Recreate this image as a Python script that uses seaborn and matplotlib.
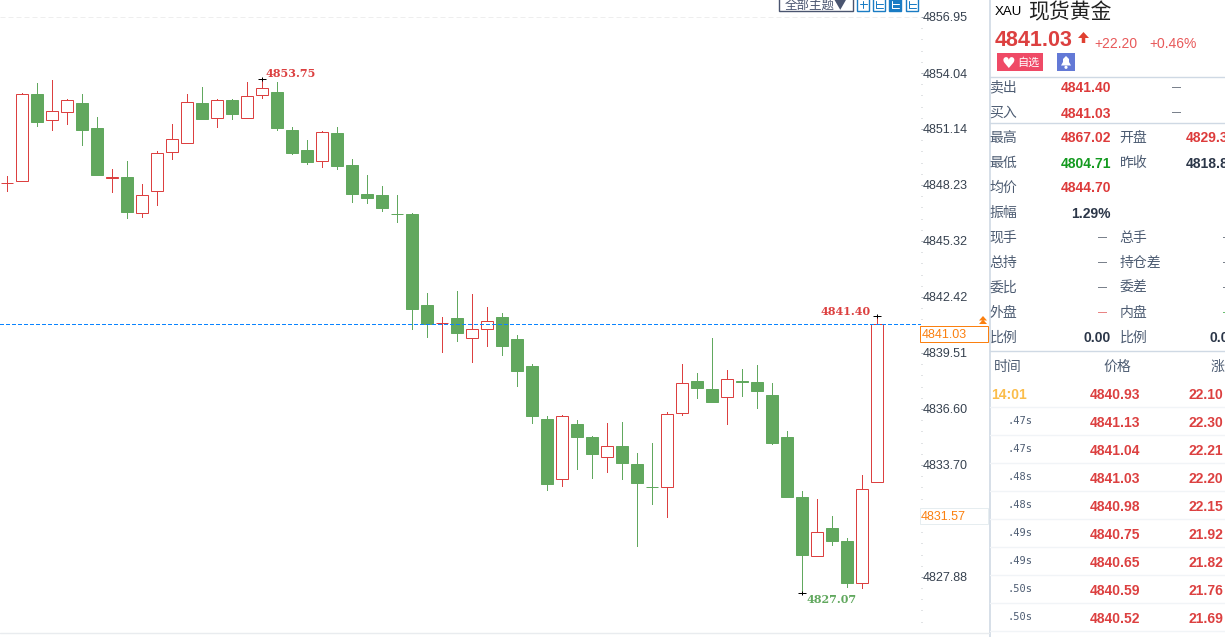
import matplotlib
matplotlib.use('Agg')
import matplotlib.pyplot as plt
import matplotlib.patches as mpatches
import numpy as np
import pandas as pd
import seaborn as sns

opens = [4848.32, 4848.42, 4852.95, 4851.59, 4852.00, 4852.48, 4851.19, 4848.60, 4848.64, 4846.76,
         4847.90, 4849.92, 4850.39, 4852.48, 4851.69, 4852.64, 4851.69, 4852.88, 4853.05, 4851.08,
         4850.04, 4849.46, 4850.93, 4849.27, 4847.76, 4847.71, 4846.71, 4846.72, 4842.00, 4841.05,
         4841.32, 4840.30, 4840.77, 4841.37, 4840.23, 4838.83, 4836.08, 4832.98, 4835.82, 4835.15,
         4834.09, 4834.68, 4833.74, 4832.57, 4832.53, 4836.38, 4838.05, 4837.64, 4837.24, 4838.03,
         4838.00, 4837.33, 4835.15, 4832.03, 4828.98, 4830.42, 4829.75, 4827.58, 4832.83]
highs = [4848.70, 4853.00, 4853.52, 4853.68, 4852.69, 4852.95, 4851.76, 4849.06, 4849.47, 4848.28,
         4849.99, 4851.39, 4852.95, 4853.31, 4852.69, 4852.69, 4853.57, 4853.75, 4853.57, 4851.24,
         4850.56, 4851.03, 4851.24, 4849.58, 4848.75, 4848.18, 4847.71, 4846.77, 4842.62, 4841.37,
         4842.72, 4842.57, 4841.89, 4841.58, 4840.44, 4838.94, 4836.24, 4836.29, 4836.03, 4835.20,
         4835.87, 4835.92, 4834.31, 4834.83, 4836.44, 4838.94, 4838.47, 4840.28, 4838.62, 4838.68,
         4838.88, 4837.95, 4835.46, 4832.34, 4831.93, 4831.04, 4829.90, 4833.17, 4841.40]
lows = [4847.93, 4848.42, 4851.31, 4851.10, 4851.41, 4850.32, 4848.75, 4847.88, 4846.53, 4846.58,
        4847.20, 4849.59, 4850.39, 4851.65, 4851.25, 4851.65, 4851.69, 4852.76, 4851.10, 4849.84,
        4849.32, 4849.18, 4849.06, 4847.34, 4847.29, 4846.88, 4846.31, 4840.75, 4840.34, 4839.56,
        4840.13, 4839.04, 4839.87, 4839.40, 4837.79, 4835.87, 4832.39, 4832.60, 4833.48, 4833.02,
        4833.33, 4832.97, 4829.49, 4831.67, 4830.99, 4836.29, 4837.17, 4836.96, 4835.82, 4837.27,
        4836.65, 4834.78, 4832.03, 4827.07, 4828.98, 4829.54, 4827.36, 4827.31, 4832.83]
closes = [4848.33, 4852.94, 4851.51, 4852.08, 4852.62, 4851.10, 4848.75, 4848.63, 4846.83, 4847.69,
          4849.87, 4850.60, 4852.52, 4851.65, 4852.62, 4851.91, 4852.83, 4853.25, 4851.19, 4849.89,
          4849.42, 4850.96, 4849.21, 4847.76, 4847.55, 4847.03, 4846.71, 4841.79, 4841.01, 4841.08,
          4840.54, 4840.74, 4841.15, 4839.87, 4838.57, 4836.24, 4832.71, 4836.22, 4835.15, 4834.26,
          4834.66, 4833.80, 4832.76, 4832.53, 4836.32, 4837.93, 4837.69, 4836.96, 4838.14, 4838.00,
          4837.53, 4834.83, 4832.03, 4829.02, 4830.20, 4829.75, 4827.57, 4832.43, 4841.00]

tick_prices = [4856.95, 4854.04, 4851.14, 4848.23, 4845.32, 4842.42, 4839.51, 4836.60, 4833.70, 4830.79, 4827.88]
last_price = 4841.03
avg_price = 4831.57

stat_labels = ['卖出', '买入', '最高', '最低', '均价', '振幅', '现手', '总持', '委比', '外盘', '比例']
stat_values = ['4841.40', '4841.03', '4867.02', '4804.71', '4844.70', '1.29%', '—', '—', '—', '—', '0.00']
stat_colors = ['#dd3b3b', '#dd3b3b', '#dd3b3b', '#139a1f', '#dd3b3b', '#2b3648', '#2b3648', '#2b3648', '#2b3648', '#dd3b3b', '#2b3648']
stat2_labels = ['', '', '开盘', '昨收', '', '', '总手', '持仓差', '委差', '内盘', '比例']
stat2_values = ['', '', '4829.35', '4818.83', '', '', '—', '—', '—', '—', '0.00']
stat2_colors = ['#2b3648', '#2b3648', '#dd3b3b', '#2b3648', '#2b3648', '#2b3648', '#2b3648', '#2b3648', '#2b3648', '#139a1f', '#2b3648']

tick_times = ['14:01', '.47s', '.47s', '.48s', '.48s', '.49s', '.49s', '.50s', '.50s']
tick_quotes = ['4840.93', '4841.13', '4841.04', '4841.03', '4840.98', '4840.75', '4840.65', '4840.59', '4840.52']
tick_changes = ['22.10', '22.30', '22.21', '22.20', '22.15', '21.92', '21.82', '21.76', '21.69']

RED = '#dc4040'
GREEN = '#61a85e'
SLATE = '#4d5c72'
LINE = '#cfd9e4'
ORANGE = '#fb8010'
W, H = 1225, 637
px = 0.72  # one pixel in points at dpi 100

sns.set_style('white')
plt.rcParams['font.family'] = ['Liberation Sans', 'Noto Sans CJK SC', 'DejaVu Sans']
plt.rcParams['axes.unicode_minus'] = False

df = pd.DataFrame({'open': opens, 'high': highs, 'low': lows, 'close': closes})
df['idx'] = df.index
df['side'] = np.where(df['close'] > df['open'], 'up', 'down')
wicks = df.melt(id_vars=['idx', 'side'], value_vars=['low', 'high'], value_name='price')

fig = plt.figure(figsize=(W / 100, H / 100), dpi=100, facecolor='white')
ax = fig.add_axes([0, 0, 920.5 / W, 1])
# axis limits chosen so that one candle step is 15 px and one price unit about 19.26 px
ax.set_xlim(-0.5, 60.87)
ax.set_ylim(4824.76, 4857.83)

sns.lineplot(data=wicks, x='idx', y='price', hue='side', units='idx', estimator=None, sort=False,
             palette={'up': RED, 'down': GREEN}, legend=False, lw=px, ax=ax, zorder=2, antialiased=False)

up = df[df['side'] == 'up']
down = df[df['side'] == 'down']
ax.bar(down['idx'], down['close'] - down['open'], bottom=down['open'], width=12 / 15,
       color=GREEN, edgecolor=GREEN, linewidth=px, zorder=3)
ax.bar(up['idx'], up['close'] - up['open'], bottom=up['open'], width=12 / 15,
       color='white', edgecolor=RED, linewidth=px, zorder=3)

ax.axhline(last_price, color='#0a84ff', lw=px, dashes=(3.5, 2.5), zorder=4, antialiased=False)
ax.axhline(tick_prices[0], color='#eeeeee', lw=px, dashes=(5, 3), zorder=1)

# extremes with their small crosses
ihi = df['high'].iloc[:30].idxmax()
ilo = df['low'].idxmin()
ilast = len(df) - 1
ext_x = [ihi, ilo, ilast]
ext_y = [df['high'][ihi], df['low'][ilo], df['high'][ilast]]
ax.plot(ext_x, ext_y, ls='', marker='_', ms=5.5, mew=px, color='black', zorder=5)
ax.plot(ext_x, ext_y, ls='', marker='|', ms=3, mew=px, color='black', zorder=5)
ext = dict(family='DejaVu Serif', weight='bold', fontsize=8, va='center')
ax.annotate(f"{df['high'][ihi]:.2f}", (ihi, df['high'][ihi]), xytext=(2.5, 3.6), textcoords='offset points', color=RED, ha='left', **ext)
ax.annotate(f"{df['high'][ilast]:.2f}", (ilast, df['high'][ilast]), xytext=(-4.6, 3.6), textcoords='offset points', color=RED, ha='right', **ext)
ax.annotate(f"{df['low'][ilo]:.2f}", (ilo, df['low'][ilo]), xytext=(3, -5), textcoords='offset points', color=GREEN, ha='left', **ext)

# price axis on the right
ax.set_xticks([])
ax.yaxis.tick_right()
ax.set_yticks(tick_prices)
ax.set_yticklabels([f'{p:.2f}' for p in tick_prices])
ax.set_yticks(np.arange(tick_prices[-1] - 0.5814 * 5, tick_prices[0] + 0.5, 0.5814), minor=True)
ax.tick_params(axis='y', which='major', right=True, length=1.4, width=px, color='#9aa3ad', pad=0,
               labelsize=9, labelcolor='#36414f')
ax.tick_params(axis='y', which='minor', right=True, length=1, width=px, color='#c4c8cc')
sns.despine(ax=ax, left=True, right=True, top=True, bottom=True)
ax.patch.set_alpha(0)

# overlay in image pixels for the quote panel
ov = fig.add_axes([0, 0, 1, 1], zorder=10)
ov.set_xlim(0, W)
ov.set_ylim(H, 0)
ov.axis('off')
ov.patch.set_alpha(0)


def rect(x0, y0, x1, y1, fc='none', ec='none', lw=px):
    ov.add_patch(mpatches.Rectangle((x0, y0), x1 - x0, y1 - y0, facecolor=fc, edgecolor=ec, linewidth=lw))


def txt(x, y, s, color=SLATE, size=10, ha='left', weight='normal', family=None):
    kw = {'family': family} if family else {}
    ov.text(x, y, s, color=color, fontsize=size, ha=ha, va='center_baseline', fontweight=weight, **kw)


CJK = ['Noto Sans CJK SC', 'DejaVu Sans']
NUM = ['Liberation Sans', 'DejaVu Sans']

# price boxes at the axis
rect(919.5, 507.5, 987.5, 523.5, fc='white', ec='#e6edf0')
txt(921, 515, f'{avg_price:.2f}', color=ORANGE, size=9)
rect(919.5, 325.5, 987.5, 341.5, fc='white', ec=ORANGE)
txt(922, 333, f'{last_price:.2f}', color=ORANGE, size=9)
arrow_x = 983
for y0 in (316, 319.5):
    ov.add_patch(mpatches.Polygon([(arrow_x - 4, y0 + 4.5), (arrow_x + 4, y0 + 4.5), (arrow_x, y0)], fc=ORANGE, ec='none'))

# toolbar at the top
rect(778.5, -3, 852.5, 11, fc='white', ec='#4a5570', lw=1)
txt(785, 4, '全部主题▼', color='#4a5570', size=9, family=CJK)
for k, x0 in enumerate((856.5, 872.5, 888.5, 905.5)):
    rect(x0, -3, x0 + 12.5, 10.5, fc='#1a7cc4' if k == 2 else 'white', ec='#1a7cc4', lw=1)
    inner = 'white' if k == 2 else '#1a7cc4'
    if k:
        ov.plot([x0 + 3, x0 + 3, x0 + 10], [1, 7.5, 7.5], color=inner, lw=px)
    else:
        ov.plot([x0 + 6, x0 + 6], [1, 8], color=inner, lw=px)
    ov.plot([x0 + 3, x0 + 10], [4, 4], color=inner, lw=px)

# panel frame and the chart's bottom rule
ov.plot([989.8, 989.8], [0, H], color=LINE, lw=1.2)
ov.plot([0, 989], [633, 633], color='#e9ecef', lw=1)
for y in (76.5, 122.5, 350.5):
    ov.plot([990, W], [y, y], color=LINE, lw=1)

# header
txt(995, 10.5, 'XAU', color='black', size=9.5, family=NUM)
txt(1028, 10, '现货黄金', color='#222222', size=15, family=CJK)
txt(995, 38, f'{last_price:.2f}', color=RED, size=15.5, weight='bold', family=NUM)
ov.add_patch(mpatches.FancyArrow(1083.5, 43, 0, -11, width=3.5, head_width=11, head_length=6,
                                 length_includes_head=True, color='#e04030', lw=0))
txt(1094, 42, '+22.20', color='#e8595a', size=10, family=NUM)
txt(1149, 42, '+0.46%', color='#e8595a', size=10, family=NUM)
rect(997, 53, 1043, 71, fc='#ef4a66')
txt(1002, 62, '♥', color='white', size=11, family='DejaVu Sans')
txt(1017, 62, '自选', color='white', size=8, family=CJK)
rect(1057, 53, 1075, 71, fc='#6379d6')
ov.add_patch(mpatches.Polygon([(1061, 65.5), (1063, 62), (1063, 59), (1066, 56), (1069, 59), (1069, 62), (1071, 65.5)], fc='white', ec='none'))
ov.add_patch(mpatches.Circle((1066, 67.3), 1.6, fc='white', ec='none'))

# statistics rows
row_ys = [87 + 25 * i for i in range(11)]
for y, lab, val, col, lab2, val2, col2 in zip(row_ys, stat_labels, stat_values, stat_colors, stat2_labels, stat2_values, stat2_colors):
    txt(989.5, y - 0.8, lab, size=10, family=CJK)
    if val != '—':
        txt(1111, y, val, color=col, size=10, ha='right', weight='bold', family=NUM)
    elif y > 112:
        txt(1107, y - 0.5, val, color=col, size=6.5, ha='right', family=NUM)
    if lab2:
        txt(1119.5, y - 0.8, lab2, size=10, family=CJK)
    if val2 == '—':
        txt(1223, y - 0.5, val2, color=col2, size=6.5, family=NUM)
    elif val2:
        left = 1210 if val2 == '0.00' else 1186
        txt(left, y, val2, color=col2, size=10, weight='bold', family=NUM)
for y in row_ys[:2]:
    txt(1172, y - 0.5, '—', color='#2b3648', size=6.5, family=NUM)

# trades table
txt(994, 365, '时间', size=10, family=CJK)
txt(1103, 365, '价格', size=10, family=CJK)
txt(1211, 365, '涨', size=10, family=CJK)
for i, (t, q, c) in enumerate(zip(tick_times, tick_quotes, tick_changes)):
    y = 393.4 + 28 * i
    if i == 0:
        txt(991, y, t, color='#fbbd4a', size=10, weight='bold', family=NUM)
    else:
        txt(1008, y - 1.6, t, color=SLATE, size=7.5, family='DejaVu Sans Mono')
    txt(1140, y, q, color=RED, size=10, ha='right', weight='bold', family=NUM)
    txt(1223, y, c, color=RED, size=10, ha='right', weight='bold', family=NUM)
    ov.plot([990, W], [y + 13.3, y + 13.3], color='#f1f4f7', lw=1)

fig.savefig('out.png', dpi=100)
